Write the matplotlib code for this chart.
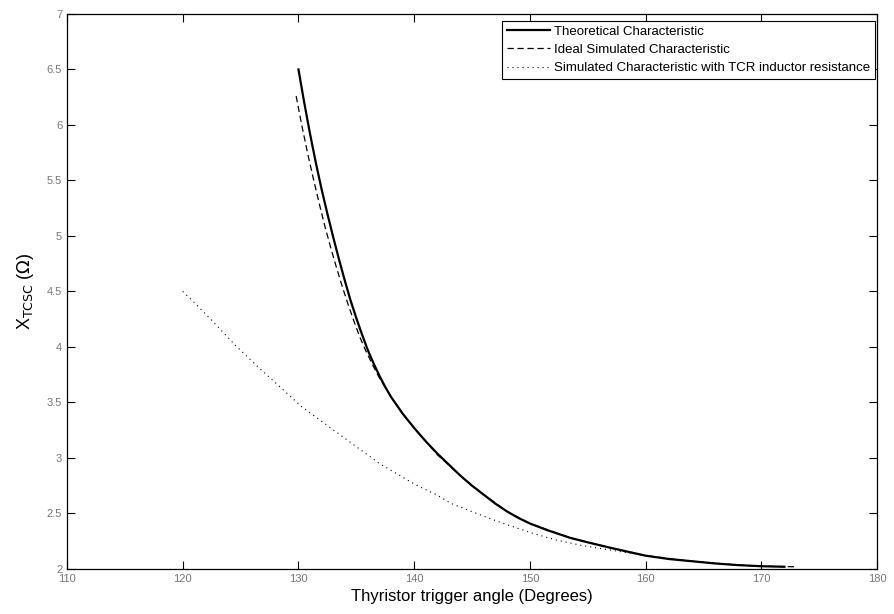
import matplotlib.pyplot as plt

plt.rcParams['font.family'] = ['Liberation Sans', 'DejaVu Sans']

# --- data ---
theo_angle = [130.0, 130.5, 131.0, 131.5, 132.0, 132.5, 133.0, 133.5, 134.0, 134.5,
              135.0, 135.5, 136.0, 136.5, 137.0, 137.5, 138.0, 139.0, 140.0, 141.0,
              142.0, 143.0, 144.0, 145.0, 146.0, 147.0, 148.0, 149.0, 150.0, 151.5,
              153.5, 155.0, 157.0, 160.0, 162.0, 164.0, 166.0, 168.0, 170.0, 172.0]
theo_x = [6.50, 6.20, 5.92, 5.66, 5.42, 5.20, 4.99, 4.79, 4.60, 4.42,
          4.26, 4.11, 3.97, 3.85, 3.74, 3.64, 3.55, 3.40, 3.27, 3.15,
          3.04, 2.94, 2.84, 2.75, 2.67, 2.59, 2.52, 2.46, 2.41, 2.35,
          2.28, 2.24, 2.19, 2.12, 2.09, 2.07, 2.05, 2.035, 2.025, 2.02]

ideal_angle = [129.8, 130.3, 130.8, 131.3, 131.8, 132.3, 132.8, 133.3, 133.8, 134.3,
               134.8, 135.3, 135.8, 136.5, 137.0, 138.0, 139.0, 140.0, 142.0, 144.0,
               146.0, 148.0, 150.0, 153.5, 157.0, 160.0, 164.0, 168.0, 170.0, 173.0]
ideal_x = [6.26, 5.99, 5.74, 5.51, 5.29, 5.08, 4.89, 4.71, 4.54, 4.38,
           4.23, 4.09, 3.97, 3.82, 3.72, 3.55, 3.40, 3.27, 3.03, 2.84,
           2.67, 2.52, 2.41, 2.28, 2.19, 2.12, 2.07, 2.035, 2.025, 2.02]

res_angle = [120.0, 121.0, 122.6, 124.5, 126.4, 128.3, 130.3, 132.4, 134.5, 137.0,
             140.1, 141.9, 143.2, 145.4, 147.7, 150.3, 152.3, 154.6, 157.0, 160.0,
             163.0, 166.0, 170.0]
res_x = [4.50, 4.40, 4.23, 4.02, 3.83, 3.65, 3.46, 3.30, 3.14, 2.95,
         2.76, 2.67, 2.59, 2.50, 2.41, 2.32, 2.26, 2.21, 2.17, 2.12,
         2.08, 2.05, 2.025]

xticks = [110, 120, 130, 140, 150, 160, 170, 180]
yticks = [2, 2.5, 3, 3.5, 4, 4.5, 5, 5.5, 6, 6.5, 7]

fig = plt.figure(figsize=(8.94, 6.14), dpi=100)
ax = fig.add_axes([0.075, 0.0733, 0.906, 0.904])

ax.plot(theo_angle, theo_x, color='black', lw=1.6, label='Theoretical Characteristic')
ax.plot(ideal_angle, ideal_x, color='black', lw=0.9, ls=(0, (5, 3)),
        label='Ideal Simulated Characteristic')
ax.plot(res_angle, res_x, color='black', lw=0.8, ls=(0, (1, 3.5)),
        label='Simulated Characteristic with TCR inductor resistance')

ax.set_xlim(110, 180)
ax.set_ylim(2, 7)
ax.set_xticks(xticks)
ax.set_yticks(yticks)
ax.set_yticklabels([f'{v:g}' for v in yticks])
ax.tick_params(direction='in', length=6, top=True, right=True,
               labelsize=8, labelcolor='#777777', width=0.8)
for s in ax.spines.values():
    s.set_linewidth(0.9)

ax.set_xlabel('Thyristor trigger angle (Degrees)', fontsize=12, labelpad=4)
ax.set_ylabel(r'X$_{\mathrm{TCSC}}$ ($\Omega$)', fontsize=13, labelpad=8)

leg = ax.legend(loc='upper right', bbox_to_anchor=(875 / 894, 1 - 21 / 614),
                bbox_transform=fig.transFigure, borderaxespad=0,
                fontsize=9.5, frameon=True, fancybox=False,
                edgecolor='black', framealpha=1,
                handlelength=3.3, handletextpad=0.3, labelspacing=0.45,
                borderpad=0.35)
leg.get_frame().set_linewidth(0.8)

fig.savefig('out.png', dpi=100)
